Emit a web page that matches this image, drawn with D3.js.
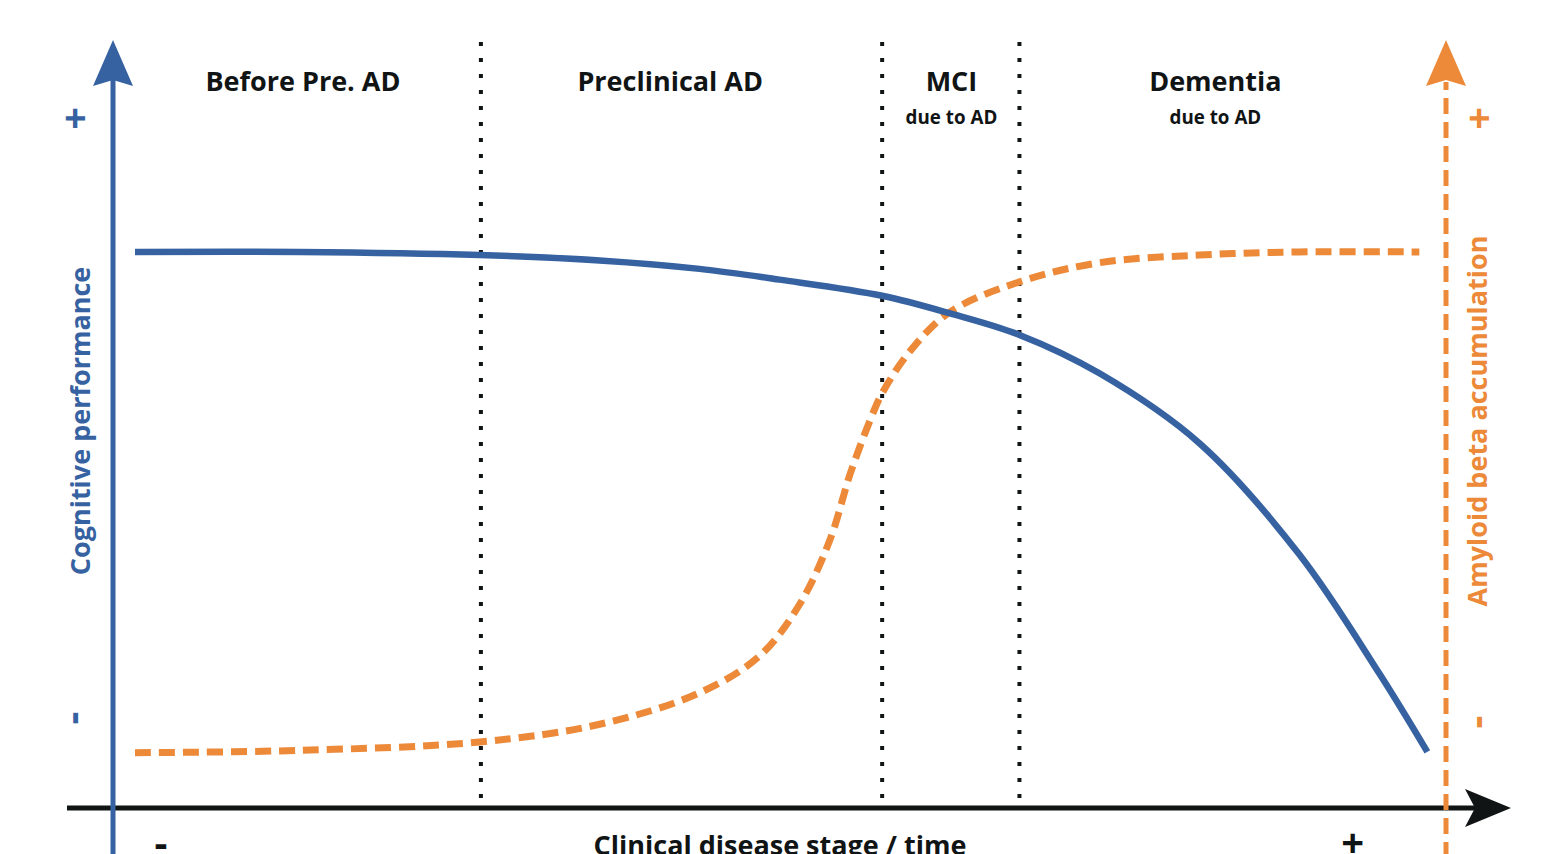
<!DOCTYPE html>
<html><head><meta charset="utf-8">
<script src="https://cdn.jsdelivr.net/npm/d3@7"></script>
<style>
html,body{margin:0;padding:0;background:#fff;overflow:hidden}
text{font-family:"Open Sans",sans-serif;font-weight:700}
</style></head>
<body>
<svg id="c" width="1551" height="854"></svg>
<script>
// ---- data ----
const stageNames = ["Before Pre. AD", "Preclinical AD", "MCI", "Dementia"];
const stageSub = ["", "", "due to AD", "due to AD"];
const stageCenters = [14.25, 41.8, 62.9, 82.7];
const stageBounds = [27.6, 57.7, 68.0];

const cogTime  = [1.65, 14, 27.5, 36.5, 44, 50, 57.7, 62.8, 68, 74, 81.5, 89, 95, 98.6];
const cogValue = [72.4, 72.4, 72.0, 71.3, 70.2, 68.8, 66.7, 64.4, 61.6, 56.6, 47.5, 33.0, 17.5, 7.3];

const amyTime  = [1.65, 14, 27.5, 36.5, 44, 48.5, 51.5, 53.8, 55.3, 56.8, 57.7, 59.8, 62.8, 68, 74, 81.5, 89, 98];
const amyValue = [7.2, 7.5, 8.6, 10.9, 15.0, 19.8, 26.5, 35.0, 43.5, 50.5, 54.0, 59.5, 64.6, 68.5, 71.0, 72.0, 72.4, 72.4];

const leftTicks = ["+", "-"];
const rightTicks = ["+", "-"];
const leftTickValues = [89.8, 11.7];
const rightTickValues = [89.8, 11.2];
const xTicks = ["-", "+"];
const xTickValues = [3.6, 93];

const xTitle = "Clinical disease stage / time";
const yLeftTitle = "Cognitive performance";
const yRightTitle = "Amyloid beta accumulation";

// ---- styles ----
const BLUE = "#3762a1", ORANGE = "#ec8a3a", BLACK = "#111414";

const svg = d3.select("#c");
const x = d3.scaleLinear().domain([0, 100]).range([113, 1446]);
const y = d3.scaleLinear().domain([0, 100]).range([808, 40]);

// stage dividers
svg.selectAll(".div").data(stageBounds).enter().append("line")
  .attr("x1", d => x(d)).attr("x2", d => x(d))
  .attr("y1", 42).attr("y2", 800)
  .attr("stroke", BLACK).attr("stroke-width", 4).attr("stroke-dasharray", "4,12");

// stage labels
svg.selectAll(".sl").data(stageNames).enter().append("text")
  .attr("x", (d, i) => x(stageCenters[i])).attr("y", 91)
  .attr("text-anchor", "middle").attr("font-size", 27).attr("fill", BLACK).text(d => d);
svg.selectAll(".ss").data(stageSub).enter().append("text")
  .attr("x", (d, i) => x(stageCenters[i])).attr("y", 124)
  .attr("text-anchor", "middle").attr("font-size", 18.8).attr("fill", BLACK).text(d => d);

// curves
const line = d3.line().x(d => x(d[0])).y(d => y(d[1])).curve(d3.curveCatmullRom.alpha(0.5));
svg.append("path").datum(amyTime.map((t, i) => [t, amyValue[i]]))
  .attr("d", line).attr("fill", "none").attr("stroke", ORANGE)
  .attr("stroke-width", 7).attr("stroke-dasharray", "16,8");
svg.append("path").datum(cogTime.map((t, i) => [t, cogValue[i]]))
  .attr("d", line).attr("fill", "none").attr("stroke", BLUE)
  .attr("stroke-width", 6.5);

// x axis
svg.append("line").attr("x1", 67).attr("x2", 1490).attr("y1", y(0)).attr("y2", y(0))
  .attr("stroke", BLACK).attr("stroke-width", 5);
svg.append("path")
  .attr("d", `M1511,${y(0)} L1465,${y(0)-19} L1475,${y(0)} L1465,${y(0)+19} Z`)
  .attr("fill", BLACK);

// left axis
svg.append("line").attr("x1", x(0)).attr("x2", x(0)).attr("y1", 854).attr("y2", 70)
  .attr("stroke", BLUE).attr("stroke-width", 5);
svg.append("path")
  .attr("d", `M${x(0)},40 L${x(0)+20},86 L${x(0)},80 L${x(0)-20},86 Z`)
  .attr("fill", BLUE);

// right axis
svg.append("line").attr("x1", x(100)).attr("x2", x(100)).attr("y1", 854).attr("y2", 82)
  .attr("stroke", ORANGE).attr("stroke-width", 5).attr("stroke-dasharray", "16,8")
  .attr("stroke-dashoffset", 4);
svg.append("path")
  .attr("d", `M${x(100)},40 L${x(100)+20},86 L${x(100)},80 L${x(100)-20},86 Z`)
  .attr("fill", ORANGE);

// +/- ticks (side ones are rotated like the axis titles)
svg.selectAll(".lt").data(leftTicks).enter().append("text")
  .attr("transform", (d, i) => `translate(${i ? 70 : 73},${y(leftTickValues[i])}) rotate(-90)`)
  .attr("text-anchor", "middle").attr("dominant-baseline", "central")
  .attr("font-size", 40).attr("fill", BLUE).text(d => d);
svg.selectAll(".rt").data(rightTicks).enter().append("text")
  .attr("transform", (d, i) => `translate(${i ? 1474 : 1477},${y(rightTickValues[i])}) rotate(-90)`)
  .attr("text-anchor", "middle").attr("dominant-baseline", "central")
  .attr("font-size", 40).attr("fill", ORANGE).text(d => d);
svg.selectAll(".xt").data(xTicks).enter().append("text")
  .attr("x", (d, i) => x(xTickValues[i])).attr("y", 841)
  .attr("text-anchor", "middle").attr("dominant-baseline", "central")
  .attr("font-size", 40).attr("fill", BLACK).text(d => d);

// titles
svg.append("text").attr("x", 780).attr("y", 855).attr("text-anchor", "middle")
  .attr("font-size", 27).attr("fill", BLACK).text(xTitle);
svg.append("text").attr("transform", "translate(90,421) rotate(-90)")
  .attr("text-anchor", "middle").attr("font-size", 27).attr("fill", BLUE).text(yLeftTitle);
svg.append("text").attr("transform", "translate(1487,421) rotate(-90)")
  .attr("text-anchor", "middle").attr("font-size", 27).attr("fill", ORANGE).text(yRightTitle);
</script>
</body></html>
